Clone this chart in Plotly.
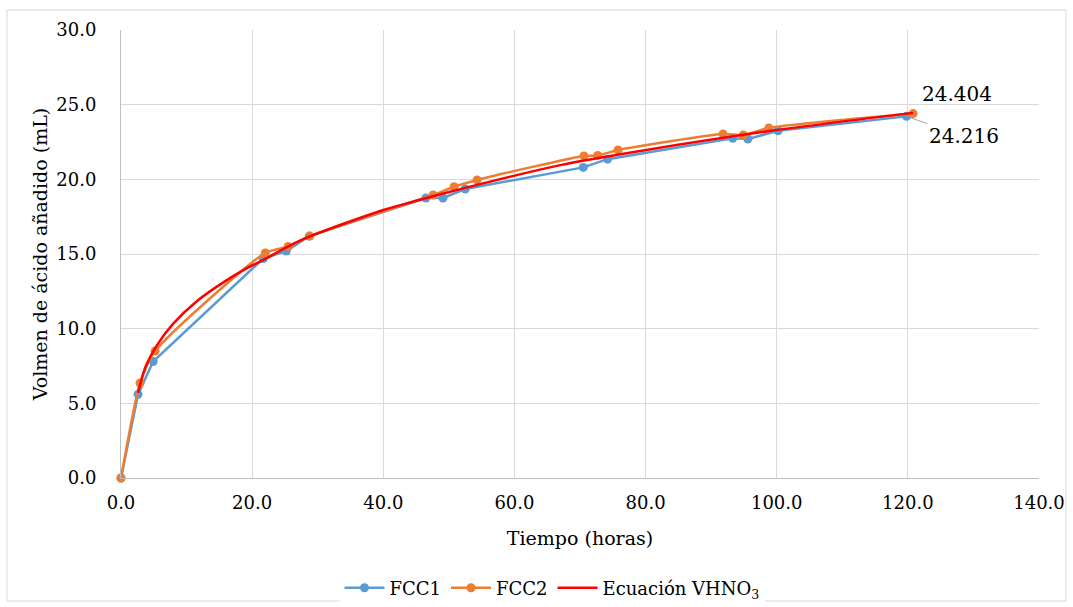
import plotly.graph_objects as go

# FCC1 data
fcc1_t = [0.0, 2.6, 4.9, 21.7, 25.2, 28.7, 46.5, 49.1, 52.5, 70.5, 74.2, 93.3, 95.6, 100.2, 119.8]
fcc1_v = [0.0, 5.6, 7.8, 14.7, 15.2, 16.2, 18.75, 18.75, 19.35, 20.8, 21.35, 22.75, 22.7, 23.25, 24.216]

# FCC2 data
fcc2_t = [0.0, 2.9, 5.2, 22.0, 25.5, 28.8, 47.6, 50.8, 54.3, 70.6, 72.7, 75.8, 91.8, 94.9, 98.8, 120.8]
fcc2_v = [0.0, 6.36, 8.5, 15.07, 15.5, 16.2, 18.95, 19.5, 19.96, 21.57, 21.6, 21.97, 23.04, 22.97, 23.44, 24.404]

# Ecuación VHNO3
ec_t = [2.6, 3.7, 5.5, 7.9, 11.6, 15.6, 19.2, 21.7, 27.3, 40.0, 44.1, 48.7, 67.0, 79.2, 100.0, 120.8]
ec_v = [5.7, 7.4, 8.9, 10.3, 11.85, 13.1, 14.05, 14.6, 15.9, 17.95, 18.45, 19.0, 20.95, 21.9, 23.3, 24.45]

x_ticks = [0, 20, 40, 60, 80, 100, 120, 140]
y_ticks = [0, 5, 10, 15, 20, 25, 30]

BLUE = "#5B9BD5"
ORANGE = "#ED7D31"
RED = "#FF0000"
FONT = "DejaVu Serif, Liberation Serif, serif"

fig = go.Figure()
fig.add_trace(go.Scatter(x=fcc1_t, y=fcc1_v, name="FCC1", mode="lines+markers",
                         line=dict(color=BLUE, width=2.5), marker=dict(size=9, color=BLUE),
                         cliponaxis=False))
fig.add_trace(go.Scatter(x=fcc2_t, y=fcc2_v, name="FCC2", mode="lines+markers",
                         line=dict(color=ORANGE, width=2.5, shape="spline", smoothing=0.6),
                         marker=dict(size=9, color=ORANGE), cliponaxis=False))
fig.add_trace(go.Scatter(x=ec_t, y=ec_v, name="Ecuación VHNO<sub>3</sub>", mode="lines",
                         line=dict(color=RED, width=2.5, shape="spline", smoothing=0.8),
                         cliponaxis=False))

fig.update_layout(
    width=1073, height=607,
    margin=dict(l=121, r=34, t=30, b=129),
    paper_bgcolor="white", plot_bgcolor="white",
    font=dict(family=FONT, size=18, color="black"),
    showlegend=True,
    legend=dict(orientation="h", x=0.4695, xanchor="center",
                yref="container", y=1 - 588 / 607, yanchor="middle",
                font=dict(family=FONT, size=18), itemwidth=40, traceorder="normal"),
    xaxis=dict(range=[0, 140], tickvals=x_ticks, tickformat=".1f",
               showgrid=True, gridcolor="#d9d9d9", gridwidth=1,
               showline=True, linecolor="#bfbfbf", linewidth=1,
               zeroline=False, ticks="", ticklabelstandoff=8, automargin=False,
               title=dict(text="Tiempo (horas)", font=dict(family=FONT, size=19), standoff=20),
               tickfont=dict(family=FONT, size=18)),
    yaxis=dict(range=[0, 30], tickvals=y_ticks, tickformat=".1f",
               showgrid=True, gridcolor="#d9d9d9", gridwidth=1,
               showline=True, linecolor="#bfbfbf", linewidth=1,
               zeroline=False, ticks="", ticklabelstandoff=20, automargin=False,
               title=dict(text="Volmen de ácido añadido (mL)", font=dict(family=FONT, size=19), standoff=3),
               tickfont=dict(family=FONT, size=18)),
)

# outer chart border
fig.add_shape(type="rect", xref="paper", yref="paper",
              x0=(7 - 121) / 918, x1=(1066 - 121) / 918,
              y0=(478 - 601) / 448, y1=(478 - 10) / 448,
              line=dict(color="#d9d9d9", width=1), layer="below")

fig.add_annotation(x=fcc2_t[-1], y=fcc2_v[-1], xref="x", yref="y",
                   text=f"{fcc2_v[-1]:.3f}", showarrow=False, xshift=44, yshift=20,
                   font=dict(family=FONT, size=20))
fig.add_annotation(x=fcc1_t[-1], y=fcc1_v[-1], xref="x", yref="y",
                   text=f"{fcc1_v[-1]:.3f}", showarrow=True, arrowhead=0, arrowwidth=1,
                   arrowcolor="#a6a6a6", ax=57, ay=20, standoff=4,
                   font=dict(family=FONT, size=20))

fig.write_html("out.html")
